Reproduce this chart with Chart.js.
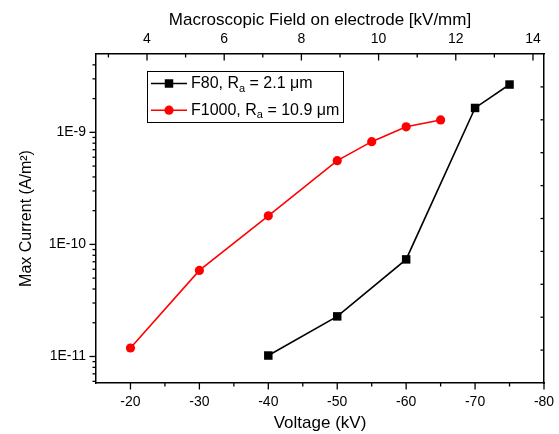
<!DOCTYPE html>
<html>
<head>
<meta charset="utf-8">
<script src="https://cdn.jsdelivr.net/npm/chart.js@4.4.0/dist/chart.umd.min.js"></script>
<style>
    html, body { margin: 0; padding: 0; background: #fff; }
    #wrap { width: 559px; height: 434px; }
</style>
</head>
<body>
<div id="wrap"><canvas id="currentChart"></canvas></div>
<script>
// Voltage (kV) and max current density (A/m^2)
const voltageF80 = [-40, -50, -60, -70, -75];
const currentF80 = [1.02e-11, 2.28e-11, 7.35e-11, 1.65e-9, 2.67e-9];
const voltageF1000 = [-20, -30, -40, -50, -55, -60, -65];
const currentF1000 = [1.19e-11, 5.86e-11, 1.80e-10, 5.59e-10, 8.26e-10, 1.12e-9, 1.29e-9];

// Axis ticks
const voltageTicks = [-20, -30, -40, -50, -60, -70, -80];
const voltageMinor = [-25, -35, -45, -55, -65, -75];
const fieldTicks = [4, 6, 8, 10, 12, 14];
const fieldMinor = [3, 5, 7, 9, 11, 13];
const currentTicks = [1e-11, 1e-10, 1e-9];
const currentMinor = [6e-12, 7e-12, 8e-12, 9e-12,
    2e-11, 3e-11, 4e-11, 5e-11, 6e-11, 7e-11, 8e-11, 9e-11,
    2e-10, 3e-10, 4e-10, 5e-10, 6e-10, 7e-10, 8e-10, 9e-10,
    2e-9, 3e-9, 4e-9];
const rightTicks = [1, 2, 3, 4, 5, 6, 7, 8, 9];

const voltMin = -80, voltMax = -15;
const gapMm = 5.6; // field = |V| / gap

const FONT = '"Liberation Sans", Arial, sans-serif';

// invisible tick space so label padding stays small (keeps the plot wide)
const hiddenGrid = len => ({
    display: true,
    drawOnChartArea: false,
    drawTicks: true,
    tickLength: len,
    color: 'rgba(0,0,0,0)',
    tickColor: 'rgba(0,0,0,0)'
});

// Origin-style tick marks: outward on bottom/left, inward on top/right
const axisTicks = {
    id: 'axisTicks',
    afterDraw(chart) {
        const { ctx, chartArea: a, scales } = chart;
        ctx.save();
        ctx.strokeStyle = '#000';
        ctx.lineWidth = 1.3;
        const mark = (x1, y1, x2, y2) => {
            ctx.beginPath(); ctx.moveTo(x1, y1); ctx.lineTo(x2, y2); ctx.stroke();
        };
        voltageTicks.forEach(v => { const x = scales.x.getPixelForValue(v); mark(x, a.bottom, x, a.bottom + 6.5); });
        voltageMinor.forEach(v => { const x = scales.x.getPixelForValue(v); mark(x, a.bottom, x, a.bottom + 3.5); });
        fieldTicks.forEach(v => { const x = scales.xTop.getPixelForValue(v); mark(x, a.top, x, a.top + 6.5); });
        fieldMinor.forEach(v => { const x = scales.xTop.getPixelForValue(v); mark(x, a.top, x, a.top + 3.5); });
        currentTicks.forEach(v => { const y = scales.y.getPixelForValue(v); mark(a.left, y, a.left - 6.5, y); });
        currentMinor.forEach(v => { const y = scales.y.getPixelForValue(v); mark(a.left, y, a.left - 3.5, y); });
        rightTicks.forEach(v => { const y = scales.yRight.getPixelForValue(v); mark(a.right, y, a.right - 3.5, y); });
        ctx.restore();
    }
};

// Boxed legend with subscript a
const boxLegend = {
    id: 'boxLegend',
    afterDraw(chart) {
        const { ctx, chartArea: a } = chart;
        const x0 = a.left + 51, y0 = a.top + 17, w = 196, h = 51;
        ctx.save();
        ctx.strokeStyle = '#000';
        ctx.lineWidth = 1;
        ctx.strokeRect(x0 + 0.5, y0 + 0.5, w, h);
        chart.data.datasets.forEach((ds, i) => {
            const y = y0 + 12.5 + i * 26.7;
            ctx.strokeStyle = ds.borderColor;
            ctx.lineWidth = ds.borderWidth;
            ctx.beginPath(); ctx.moveTo(x0 + 4, y); ctx.lineTo(x0 + 40, y); ctx.stroke();
            ctx.fillStyle = ds.pointBackgroundColor;
            ctx.beginPath();
            if (ds.pointStyle === 'rect') {
                const s = ds.pointRadius * Math.SQRT1_2;
                ctx.rect(x0 + 22 - s, y - s, 2 * s, 2 * s);
            } else {
                ctx.arc(x0 + 22, y, ds.pointRadius, 0, Math.PI * 2);
            }
            ctx.fill();

            const parts = ds.label.split('ₐ');
            ctx.fillStyle = '#000';
            ctx.textBaseline = 'middle';
            ctx.textAlign = 'left';
            let tx = x0 + 44;
            ctx.font = '16px ' + FONT;
            ctx.fillText(parts[0], tx, y);
            tx += ctx.measureText(parts[0]).width;
            ctx.font = '11px ' + FONT;
            ctx.fillText('a', tx, y + 5);
            tx += ctx.measureText('a').width;
            ctx.font = '16px ' + FONT;
            ctx.fillText(parts[1], tx, y);
        });
        ctx.restore();
    }
};

const ctx = document.getElementById('currentChart').getContext('2d');
new Chart(ctx, {
    type: 'scatter',
    data: {
        datasets: [{
            label: 'F80, Rₐ = 2.1 μm',
            data: voltageF80.map((v, i) => ({ x: v, y: currentF80[i] })),
            showLine: true,
            borderColor: '#000000',
            backgroundColor: '#000000',
            pointBackgroundColor: '#000000',
            borderWidth: 1.6,
            pointStyle: 'rect',
            pointRadius: 6,
            pointBorderWidth: 0,
            xAxisID: 'x',
            yAxisID: 'y'
        }, {
            label: 'F1000, Rₐ = 10.9 μm',
            data: voltageF1000.map((v, i) => ({ x: v, y: currentF1000[i] })),
            showLine: true,
            borderColor: '#ff0000',
            backgroundColor: '#ff0000',
            pointBackgroundColor: '#ff0000',
            borderWidth: 1.6,
            pointStyle: 'circle',
            pointRadius: 4.6,
            pointBorderWidth: 0,
            xAxisID: 'x',
            yAxisID: 'y'
        }]
    },
    options: {
        responsive: true,
        maintainAspectRatio: false,
        animation: false,
        layout: { padding: 0 },
        plugins: {
            legend: { display: false },
            tooltip: { enabled: false }
        },
        scales: {
            x: {
                type: 'linear',
                position: 'bottom',
                reverse: true,
                min: voltMin,
                max: voltMax,
                afterBuildTicks: s => { s.ticks = voltageTicks.map(v => ({ value: v })); },
                afterFit: s => { s.height = 51; },
                grid: hiddenGrid(8),
                border: { display: true, color: '#000', width: 1.5 },
                ticks: { color: '#000', padding: 3, maxRotation: 0, font: { family: FONT, size: 14 } },
                title: {
                    display: true, text: 'Voltage (kV)', color: '#000',
                    font: { family: FONT, size: 17 }, padding: { top: 0, bottom: 0 }
                }
            },
            xTop: {
                type: 'linear',
                position: 'top',
                min: -voltMax / gapMm,
                max: -voltMin / gapMm,
                afterBuildTicks: s => { s.ticks = fieldTicks.map(v => ({ value: v })); },
                afterFit: s => { s.height = 54; },
                grid: hiddenGrid(4),
                border: { display: true, color: '#000', width: 1.5 },
                ticks: { color: '#000', padding: 2, maxRotation: 0, font: { family: FONT, size: 14 } },
                title: {
                    display: true, text: 'Macroscopic Field on electrode [kV/mm]', color: '#000',
                    font: { family: FONT, size: 17 }, padding: { top: 10, bottom: 0 }
                }
            },
            y: {
                type: 'logarithmic',
                position: 'left',
                min: 5.8e-12,
                max: 5e-9,
                afterBuildTicks: s => { s.ticks = currentTicks.map(v => ({ value: v })); },
                afterFit: s => { s.width = 96; },
                grid: { display: false, drawTicks: false },
                border: { display: true, color: '#000', width: 1.5 },
                ticks: {
                    color: '#000', padding: 10, font: { family: FONT, size: 14 },
                    callback: v => '1E' + Math.round(Math.log10(v))
                },
                title: {
                    display: true, text: 'Max Current (A/m²)', color: '#000',
                    font: { family: FONT, size: 16 }, padding: { top: 17, bottom: 0 }
                }
            },
            yRight: {
                type: 'linear',
                position: 'right',
                min: 0,
                max: 10,
                afterFit: s => { s.width = 15; },
                grid: { display: false, drawTicks: false },
                border: { display: true, color: '#000', width: 1.5 },
                ticks: { display: false }
            }
        }
    },
    plugins: [axisTicks, boxLegend]
});
</script>
</body>
</html>
